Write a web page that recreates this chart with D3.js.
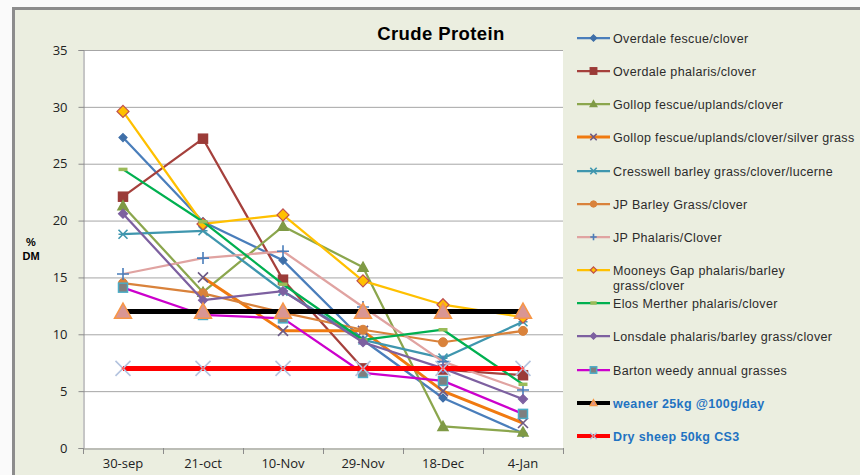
<!DOCTYPE html>
<html>
<head>
<meta charset="utf-8">
<script src="https://cdn.jsdelivr.net/npm/d3@7"></script>
<style>
  body { margin: 0; background: #fafafa; }
  svg { display: block; }
</style>
</head>
<body>
<svg width="860" height="475"></svg>
<script>
const svg = d3.select('svg');

const categories = ['30-sep', '21-oct', '10-Nov', '29-Nov', '18-Dec', '4-Jan'];
const yTicks = [0, 5, 10, 15, 20, 25, 30, 35];

const seriesNames = [
  'Overdale fescue/clover',
  'Overdale phalaris/clover',
  'Gollop fescue/uplands/clover',
  'Gollop fescue/uplands/clover/silver grass',
  'Cresswell barley grass/clover/lucerne',
  'JP Barley Grass/clover',
  'JP Phalaris/Clover',
  'Mooneys Gap phalaris/barley grass/clover',
  'Elos Merther phalaris/clover',
  'Lonsdale phalaris/barley grass/clover',
  'Barton weedy annual grasses',
  'weaner 25kg  @100g/day',
  'Dry sheep  50kg  CS3'
];

const overdaleFescue   = [27.3, 19.9, 16.5, 9.5, 4.4, 1.3];
const overdalePhalaris = [22.1, 27.2, 14.8, 7.0, 6.9, 6.4];
const gollopFescue     = [21.3, 13.7, 19.5, 15.9, 1.9, 1.4];
const gollopSilver     = [null, 15.0, 10.3, 10.3, 5.0, 2.2];
const cresswell        = [18.8, 19.1, 13.8, 9.5, 7.9, 11.1];
const jpBarley         = [14.5, 13.6, 11.9, 10.4, 9.3, 10.3];
const jpPhalaris       = [15.3, 16.7, 17.3, 12.4, 7.6, 5.1];
const mooneysGap       = [29.6, 19.7, 20.5, 14.7, 12.6, 11.5];
const elosMerther      = [24.5, 19.9, 14.4, 9.5, 10.4, 5.6];
const lonsdale         = [20.6, 13.0, 13.8, 9.3, 7.0, 4.3];
const barton           = [14.1, 11.7, 11.4, 6.6, 5.9, 3.0];
const weaner           = [12, 12, 12, 12, 12, 12];
const drySheep         = [7, 7, 7, 7, 7, 7];

const seriesValues = [overdaleFescue, overdalePhalaris, gollopFescue, gollopSilver, cresswell,
  jpBarley, jpPhalaris, mooneysGap, elosMerther, lonsdale, barton, weaner, drySheep];

// line colour, width, marker shape, marker size, fill, stroke
const styles = [
  { color: '#4a7ebb', w: 2.25, m: 'diamond',  s: 8,  fill: '#3f6fa8', stroke: '#3f6fa8' },
  { color: '#a5403c', w: 2.25, m: 'square',   s: 9,  fill: '#9b3b38', stroke: '#9b3b38' },
  { color: '#8ba64d', w: 2.25, m: 'triangle', s: 10, fill: '#7f9a45', stroke: '#7f9a45' },
  { color: '#f07a10', w: 3,    m: 'x',        s: 10, fill: 'none',    stroke: '#6c5a86' },
  { color: '#3f96ae', w: 2.25, m: 'star',     s: 9,  fill: 'none',    stroke: '#3f96ae' },
  { color: '#d9823b', w: 2.25, m: 'circle',   s: 9,  fill: '#d9823b', stroke: '#d9823b' },
  { color: '#e0a3a1', w: 2.25, m: 'plus',     s: 12, fill: 'none',    stroke: '#4a7ebb' },
  { color: '#ffc000', w: 2.25, m: 'diamond',  s: 12, fill: '#ffc000', stroke: '#c0504d' },
  { color: '#00b050', w: 2.25, m: 'dash',     s: 9,  fill: 'none',    stroke: '#9bbb59' },
  { color: '#7d60a0', w: 2.25, m: 'diamond',  s: 9,  fill: '#7d60a0', stroke: '#7d60a0' },
  { color: '#cc00cc', w: 2.25, m: 'square',   s: 9,  fill: '#7f7f7f', stroke: '#4bacc6' },
  { color: '#000000', w: 5,    m: 'triangle', s: 17, fill: '#d99694', stroke: '#f79646' },
  { color: '#ff0000', w: 5,    m: 'bigx',     s: 15, fill: 'none',    stroke: '#b4c4df' }
];

const margin = { left: 83, right: 297, top: 50, bottom: 27 };
const width = 860, height = 475;

// frame
svg.append('rect').attr('x', 13.5).attr('y', 8.5)
  .attr('width', 860).attr('height', 475)
  .attr('fill', '#ebeee0').attr('stroke', '#8c8c8c').attr('stroke-width', 3);

const x = d3.scaleBand().domain(categories).range([margin.left, width - margin.right]);
const y = d3.scaleLinear().domain([0, 35]).range([height - margin.bottom, margin.top]);
const cx = c => x(c) + x.bandwidth() / 2;

svg.append('rect')
  .attr('x', x.range()[0]).attr('y', y(35))
  .attr('width', x.range()[1] - x.range()[0]).attr('height', y(0) - y(35))
  .attr('fill', '#ffffff');

// grid
svg.append('g').selectAll('line').data(yTicks.filter(t => t > 0)).join('line')
  .attr('x1', x.range()[0]).attr('x2', x.range()[1])
  .attr('y1', d => y(d) + 0.5).attr('y2', d => y(d) + 0.5)
  .attr('stroke', '#a6a6a6').attr('stroke-width', 1);

const axisFont = '"Open Sans", "Noto Sans", sans-serif';

const yAxis = svg.append('g')
  .attr('transform', `translate(${x.range()[0] + 0.5},0)`)
  .call(d3.axisLeft(y).tickValues(yTicks).tickSize(5).tickPadding(11));
yAxis.select('.domain').attr('stroke', '#8c8c8c');
yAxis.selectAll('.tick line').attr('stroke', '#8c8c8c');
yAxis.selectAll('.tick text').attr('font-family', axisFont).attr('font-size', 13).attr('fill', '#222');

const xAxis = svg.append('g')
  .attr('transform', `translate(0,${y(0) + 0.5})`)
  .call(d3.axisBottom(x).tickSize(0).tickPadding(10));
xAxis.select('.domain').attr('stroke', '#8c8c8c');
xAxis.selectAll('.tick text').attr('font-family', axisFont).attr('font-size', 13).attr('fill', '#222');
svg.append('g').selectAll('line').data(categories.concat(['end'])).join('line')
  .attr('x1', (d, i) => x.range()[0] + i * x.bandwidth() + 0.5)
  .attr('x2', (d, i) => x.range()[0] + i * x.bandwidth() + 0.5)
  .attr('y1', y(0)).attr('y2', y(0) + 6)
  .attr('stroke', '#8c8c8c');

// axis title
svg.append('text').attr('x', 31).attr('y', 246).attr('text-anchor', 'middle')
  .attr('font-family', 'Liberation Sans, Arial, sans-serif').attr('font-weight', 'bold')
  .attr('font-size', 11).text('%');
svg.append('text').attr('x', 31).attr('y', 260).attr('text-anchor', 'middle')
  .attr('font-family', 'Liberation Sans, Arial, sans-serif').attr('font-weight', 'bold')
  .attr('font-size', 11).text('DM');

// title
svg.append('text').attr('x', 441).attr('y', 40).attr('text-anchor', 'middle')
  .attr('font-family', 'Liberation Sans, Arial, sans-serif').attr('font-weight', 'bold')
  .attr('font-size', 18.5).attr('letter-spacing', 0.4).text('Crude Protein');

function drawMarker(g, st, px, py, scale) {
  const s = st.s * scale, h = s / 2;
  if (st.m === 'diamond') {
    g.append('path').attr('d', `M${px},${py - h}L${px + h},${py}L${px},${py + h}L${px - h},${py}Z`)
      .attr('fill', st.fill).attr('stroke', st.stroke).attr('stroke-width', 1.2);
  } else if (st.m === 'square') {
    g.append('rect').attr('x', px - h).attr('y', py - h).attr('width', s).attr('height', s)
      .attr('fill', st.fill).attr('stroke', st.stroke).attr('stroke-width', 1.5);
  } else if (st.m === 'triangle') {
    g.append('path').attr('d', `M${px},${py - h}L${px + h},${py + h * 0.8}L${px - h},${py + h * 0.8}Z`)
      .attr('fill', st.fill).attr('stroke', st.stroke).attr('stroke-width', 1.5);
  } else if (st.m === 'circle') {
    g.append('circle').attr('cx', px).attr('cy', py).attr('r', h)
      .attr('fill', st.fill).attr('stroke', st.stroke);
  } else if (st.m === 'x' || st.m === 'bigx') {
    g.append('path').attr('d', `M${px - h},${py - h}L${px + h},${py + h}M${px - h},${py + h}L${px + h},${py - h}`)
      .attr('stroke', st.stroke).attr('stroke-width', 1.6).attr('fill', 'none');
    if (st.m === 'bigx') g.append('circle').attr('cx', px).attr('cy', py).attr('r', 1.3 * scale).attr('fill', '#ff6060');
  } else if (st.m === 'plus') {
    g.append('path').attr('d', `M${px - h},${py}L${px + h},${py}M${px},${py - h}L${px},${py + h}`)
      .attr('stroke', st.stroke).attr('stroke-width', 1.6).attr('fill', 'none');
  } else if (st.m === 'star') {
    g.append('path').attr('d', `M${px - h},${py - h}L${px + h},${py + h}M${px - h},${py + h}L${px + h},${py - h}M${px - h},${py}L${px + h},${py}`)
      .attr('stroke', st.stroke).attr('stroke-width', 1.6).attr('fill', 'none');
  } else if (st.m === 'dash') {
    g.append('path').attr('d', `M${px - h},${py}L${px + h},${py}`)
      .attr('stroke', st.stroke).attr('stroke-width', 3.5).attr('fill', 'none');
  }
}

const line = d3.line()
  .defined(d => d.v != null)
  .x(d => cx(d.c))
  .y(d => y(d.v));

const plot = svg.append('g');
seriesValues.forEach((vals, i) => {
  const st = styles[i];
  const pts = categories.map((c, j) => ({ c, v: vals[j] }));
  const g = plot.append('g');
  g.append('path').datum(pts).attr('d', line)
    .attr('fill', 'none').attr('stroke', st.color).attr('stroke-width', st.w)
    .attr('stroke-linejoin', 'round');
  pts.filter(d => d.v != null).forEach(d => drawMarker(g, st, cx(d.c), y(d.v), 1));
});

// legend
const legendY = [38, 71, 104, 137, 171, 204, 237, 270, 303, 336, 370, 403, 436];
const legend = svg.append('g');
seriesNames.forEach((name, i) => {
  const st = styles[i];
  const ly = legendY[i];
  legend.append('line').attr('x1', 577).attr('x2', 610).attr('y1', ly).attr('y2', ly)
    .attr('stroke', st.color).attr('stroke-width', Math.min(st.w, 4));
  const ls = Object.assign({}, st, { s: Math.min(st.s, 8) });
  drawMarker(legend, ls, 593.5, ly, 0.8);
  const special = i >= 11;
  const t = legend.append('text').attr('x', 613).attr('y', ly + 4.5)
    .attr('font-family', 'Liberation Sans, Arial, sans-serif').attr('font-size', 12.5)
    .attr('letter-spacing', 0.35)
    .attr('fill', special ? '#1f73c2' : '#2b2b2b')
    .attr('font-weight', special ? 'bold' : 'normal');
  if (i === 7) {
    t.append('tspan').attr('x', 613).text('Mooneys Gap phalaris/barley');
    t.append('tspan').attr('x', 613).attr('dy', 15).text('grass/clover');
  } else {
    t.text(name);
  }
});
</script>
</body>
</html>
